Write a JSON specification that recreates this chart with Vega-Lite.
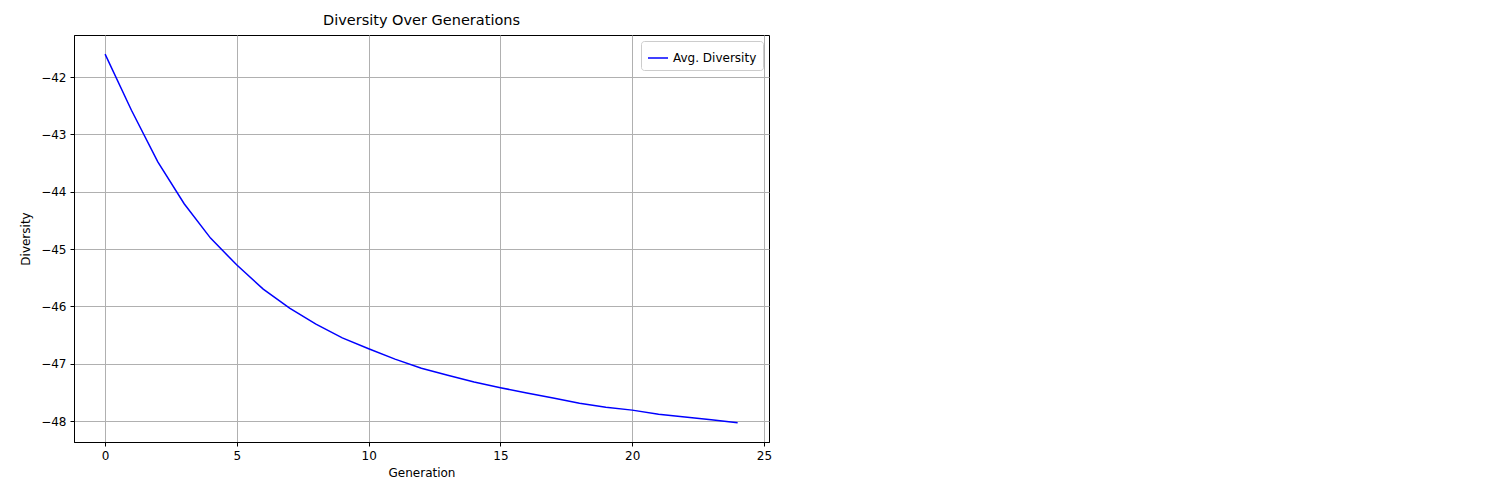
{
  "$schema": "https://vega.github.io/schema/vega-lite/v6.json",
  "width": 695, "height": 407,
  "autosize": {"type": "none"},
  "padding": {"left": 74, "top": 35, "right": 731, "bottom": 58},
  "background": "white",
  "config": {"font": "DejaVu Sans", "view": {"stroke": "black", "strokeWidth": 1}},
  "title": {"text": "Diversity Over Generations", "fontSize": 14.5, "fontWeight": "normal", "offset": 7, "font": "DejaVu Sans"},
  "data": {"values": [
    {"g":0,"d":-41.6},{"g":1,"d":-42.58},{"g":2,"d":-43.48},{"g":3,"d":-44.21},{"g":4,"d":-44.81},
    {"g":5,"d":-45.28},{"g":6,"d":-45.70},{"g":7,"d":-46.03},{"g":8,"d":-46.31},{"g":9,"d":-46.55},
    {"g":10,"d":-46.74},{"g":11,"d":-46.92},{"g":12,"d":-47.08},{"g":13,"d":-47.2},{"g":14,"d":-47.32},
    {"g":15,"d":-47.42},{"g":16,"d":-47.51},{"g":17,"d":-47.6},{"g":18,"d":-47.69},{"g":19,"d":-47.76},
    {"g":20,"d":-47.81},{"g":21,"d":-47.88},{"g":22,"d":-47.93},{"g":23,"d":-47.98},{"g":24,"d":-48.03}
  ]},
  "mark": {"type": "line", "strokeWidth": 1.5},
  "encoding": {
    "x": {"field": "g", "type": "quantitative", "scale": {"domain": [-1.18, 25.19], "nice": false, "zero": false},
      "axis": {"title": "Generation", "values": [0,5,10,15,20,25], "grid": true, "gridColor": "#b0b0b0", "gridOpacity": 1, "tickColor": "black", "domainColor": "black", "labelColor": "black", "labelFontSize": 12, "titleFontSize": 12, "titleFontWeight": "normal", "titleColor": "black", "tickSize": 4, "labelPadding": 4, "titlePadding": 6}},
    "y": {"field": "d", "type": "quantitative", "scale": {"domain": [-48.366, -41.267], "nice": false, "zero": false},
      "axis": {"title": "Diversity", "values": [-48,-47,-46,-45,-44,-43,-42], "grid": true, "gridColor": "#b0b0b0", "gridOpacity": 1, "tickColor": "black", "domainColor": "black", "labelColor": "black", "labelFontSize": 12, "titleFontSize": 12, "titleFontWeight": "normal", "titleColor": "black", "tickSize": 4, "labelPadding": 4, "titlePadding": 8}},
    "color": {"datum": "Avg. Diversity", "type": "nominal", "scale": {"range": ["blue"]},
      "legend": {"title": null, "orient": "top-right", "symbolType": "stroke", "symbolSize": 400, "symbolStrokeWidth": 1.5, "labelFontSize": 12, "labelColor": "black", "fillColor": "white", "strokeColor": "#cccccc", "padding": 6, "cornerRadius": 3, "offset": 6}}
  }
}
